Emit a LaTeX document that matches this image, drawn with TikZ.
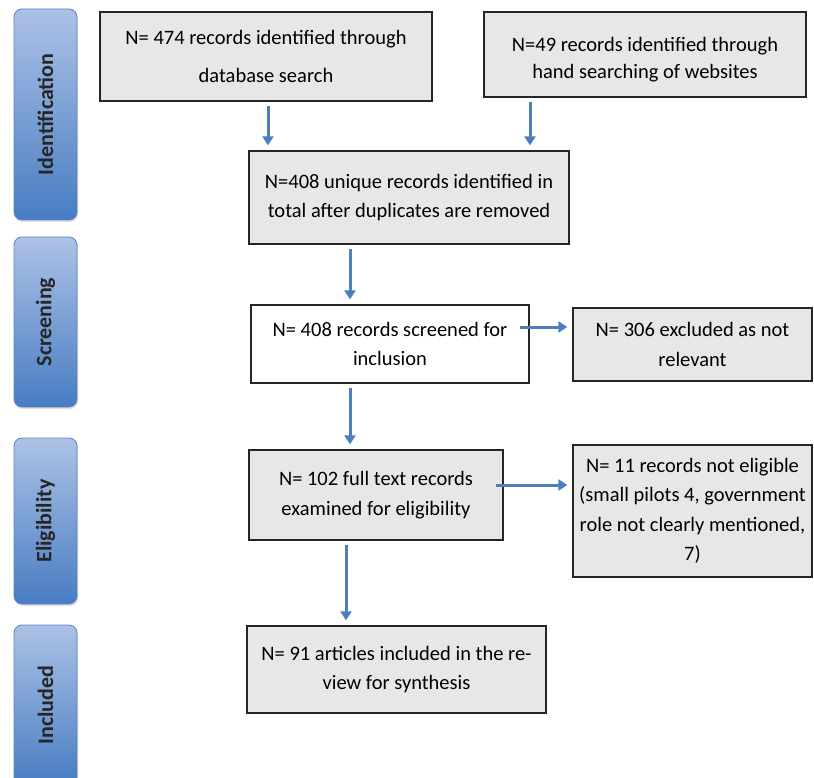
\documentclass[tikz,border=0pt]{standalone}
\usepackage{fontspec}
\setmainfont{Carlito}
\usetikzlibrary{arrows.meta,shadows}
\definecolor{phaseTop}{RGB}{172,194,230}
\definecolor{phaseBot}{RGB}{72,124,194}
\definecolor{phaseLine}{RGB}{92,132,196}
\definecolor{boxGray}{RGB}{231,231,232}
\definecolor{flowBlue}{RGB}{76,127,190}

\tikzset{
	phase/.style={draw=phaseLine, line width=0.8pt, rounded corners=8pt,
		top color=phaseTop, bottom color=phaseBot, minimum width=63pt,
		drop shadow={shadow xshift=1pt, shadow yshift=-2pt, opacity=0.25}},
	phaselabel/.style={rotate=90, text=black!85, font=\fontsize{22}{24}\selectfont\bfseries},
	rectext/.style={align=center, inner sep=0pt, font=\fontsize{20.5}{29.5}\selectfont},
	recbox/.style={rectext, draw=black!85, line width=1.3pt, fill=boxGray},
	flow/.style={flowBlue, line width=3pt, -{Triangle[length=9pt,width=11pt]},
		shorten <=4pt, shorten >=5pt}
}

\begin{document}
\begin{tikzpicture}[x=1pt,y=-1pt]
	\clip (0,0) rectangle (814,778);
	\fill[white] (0,0) rectangle (814,778);

	% phases on the left
	\foreach \name/\cy/\h/\lbl in {idf/114.5/211/Identification, scr/322/170/Screening,
		elg/521/166/Eligibility, inc/705/160/Included}
	{
		\node[phase, minimum height=\h pt] (\name) at (45.5,\cy) {};
		\node[phaselabel] (\name-lbl) at (\name) {\lbl};
	}

	% records
	\node[recbox, minimum width=332pt, minimum height=89pt] (db) at (266,56.5)
		{N= 474 records identified through\\[9pt] database search};
	\node[recbox, minimum width=322pt, minimum height=85pt] (web) at (645,54.5) {};
	\node[rectext] (web-txt) at ([yshift=-5pt]web.center)
		{N=49 records identified through\\[-2pt]hand searching of websites};
	\node[recbox, minimum width=320pt, minimum height=93pt] (uniq) at (409,197.5)
		{N=408 unique records identified in\\total after duplicates are removed};
	\node[recbox, fill=white, minimum width=278pt, minimum height=78pt] (scrd) at (390,344)
		{N= 408 records screened for\\inclusion};
	\node[recbox, minimum width=239pt, minimum height=73pt] (excl) at (692.5,344.5)
		{N= 306 excluded as not\\relevant};
	\node[recbox, minimum width=254pt, minimum height=90pt] (full) at (376,495)
		{N= 102 full text records\\examined for eligibility};
	\node[recbox, minimum width=239pt, minimum height=132pt] (nelg) at (692.5,511)
		{N= 11 records not eligible\\(small pilots 4, government\\role not clearly mentioned,\\7)};
	\node[recbox, minimum width=299pt, minimum height=87pt] (incl) at (396.5,669.5)
		{N= 91 articles included in the re-\\view for synthesis};

	% columns and rows of the arrows
	\coordinate (c1) at (268,0);
	\coordinate (c2) at (530,0);
	\coordinate (c3) at (350,0);
	\coordinate (c4) at (346,0);
	\coordinate (r1) at (0,327);
	\coordinate (r2) at (0,485);

	% arrows
	\draw[flow] (db.south -| c1) -- (uniq.north -| c1);
	\draw[flow] (web.south -| c2) -- (uniq.north -| c2);
	\draw[flow] (uniq.south -| c3) -- (scrd.north -| c3);
	\draw[flow] (scrd.south -| c3) -- (full.north -| c3);
	\draw[flow] (full.south -| c4) -- (incl.north -| c4);
	\draw[flow, shorten <=-10pt] (scrd.east |- r1) -- (excl.west |- r1);
	\draw[flow, shorten <=-8pt] (full.east |- r2) -- (nelg.west |- r2);
\end{tikzpicture}
\end{document}
